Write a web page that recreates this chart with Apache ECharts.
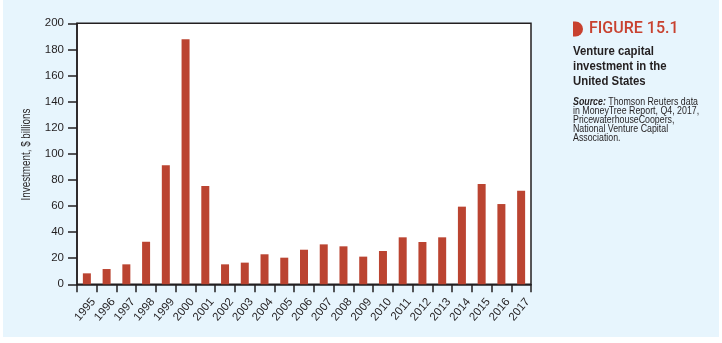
<!DOCTYPE html>
<html>
<head>
<meta charset="utf-8">
<script src="https://cdn.jsdelivr.net/npm/echarts@6/dist/echarts.min.js"></script>
<style>
  html, body { margin: 0; padding: 0; background: #ffffff; }
  #chart { width: 722px; height: 343px; }
</style>
</head>
<body>
<div id="chart"></div>
<script>
// Venture capital investment in the United States, $ billions
const years = ['1995','1996','1997','1998','1999','2000','2001','2002','2003','2004','2005','2006',
               '2007','2008','2009','2010','2011','2012','2013','2014','2015','2016','2017'];
const investment = [8.4, 11.7, 15.3, 32.6, 91.2, 187.7, 75.3, 15.3, 16.6, 23, 20.4, 26.5,
                    30.6, 29.1, 21.2, 25.5, 36, 32.4, 36, 59.5, 76.9, 61.5, 71.7];
const yTicks = { min: 0, max: 200, step: 20 };

const yTitle = 'Investment, $ billions';
const figureLabel = 'FIGURE 15.1';
const captionLines = ['Venture capital', 'investment in the', 'United States'];
const sourceLines = ['Thomson Reuters data', 'in MoneyTree Report, Q4, 2017,', 'PricewaterhouseCoopers,',
                     'National Venture Capital', 'Association.'];

const ink = '#231f20';
const sans = '"Liberation Sans", Arial, sans-serif';

const chart = echarts.init(document.getElementById('chart'), null, { renderer: 'canvas' });

// caption block, condensed horizontally
const captionChildren = captionLines.map((t, i) => ({
  type: 'text', x: 0, y: i * 15,
  style: { text: t, fill: ink, font: 'bold 12.5px ' + sans, textVerticalAlign: 'middle' }
}));
const sourceChildren = [{
  type: 'text', x: 0, y: 0,
  style: {
    text: '{i|Source:} ' + sourceLines[0], fill: ink, font: '10.5px ' + sans, textVerticalAlign: 'middle',
    rich: { i: { fontStyle: 'italic', fontWeight: 'bold', fontSize: 10.5, fontFamily: sans, fill: ink } }
  }
}].concat(sourceLines.slice(1).map((t, i) => ({
  type: 'text', x: 0, y: (i + 1) * 9.1,
  style: { text: t, fill: ink, font: '10.5px ' + sans, textVerticalAlign: 'middle' }
})));

chart.setOption({
  backgroundColor: '#ffffff',
  animation: false,
  graphic: [
    { type: 'rect', x: 3, y: 0, z: -10, shape: { width: 716, height: 337 }, style: { fill: '#e7f5fd' } },
    { type: 'rect', x: 573, y: 21.5, shape: { width: 10, height: 15, r: [0, 7.5, 7.5, 0] }, style: { fill: '#c8412f' } },
    { type: 'text', x: 589, y: 29, style: { text: figureLabel, fill: '#c8412f', font: '500 16px Roboto, Arial, sans-serif', textVerticalAlign: 'middle' } },
    { type: 'group', x: 573, y: 52, scaleX: 0.91, children: captionChildren },
    { type: 'group', x: 573, y: 101.7, scaleX: 0.84, children: sourceChildren },
    {
      type: 'text', x: 27, y: 154.5, rotation: Math.PI / 2, scaleX: 0.82,
      style: { text: yTitle, fill: ink, font: '12px ' + sans, textAlign: 'center', textVerticalAlign: 'middle' }
    }
  ],
  grid: {
    left: 77, top: 23.3, right: 191, bottom: 58.7,
    show: true, backgroundColor: '#ffffff', borderColor: ink, borderWidth: 1.5
  },
  xAxis: {
    type: 'category',
    data: years,
    axisLine: { lineStyle: { color: ink, width: 1.5 } },
    axisTick: { show: true, length: 8, lineStyle: { color: ink, width: 1.5 } },
    axisLabel: {
      rotate: 50, margin: 10, verticalAlign: 'top', lineHeight: 17,
      color: ink, fontSize: 11.5, fontFamily: sans, interval: 0
    }
  },
  yAxis: {
    type: 'value',
    min: yTicks.min, max: yTicks.max, interval: yTicks.step,
    splitLine: { show: false },
    axisLine: { show: true, lineStyle: { color: ink, width: 1.5 } },
    axisTick: { show: true, length: 9, lineStyle: { color: ink, width: 1.5 } },
    axisLabel: { color: ink, fontSize: 11.5, fontFamily: sans, margin: 13 }
  },
  series: [{
    type: 'bar',
    data: investment,
    barWidth: 8,
    itemStyle: { color: '#bb4431' }
  }]
});
</script>
</body>
</html>
